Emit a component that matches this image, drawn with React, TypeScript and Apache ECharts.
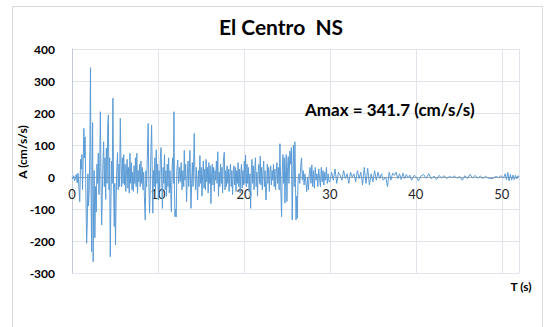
import React, { useEffect, useRef } from "react";
import * as echarts from "echarts";

// Ground acceleration record, El Centro NS: [time (s), acceleration (cm/s/s)]
const strongPhase: [number, number][] = [
  [0, 0], [0.1, -6], [0.2, 4], [0.3, -12], [0.4, -4], [0.5, 8], [0.6, -18], [0.7, 12], [0.8, -30], [0.9, -77],
  [1.0, 55], [1.08, 25], [1.15, 70], [1.22, -40], [1.3, 45], [1.38, 152], [1.45, 60], [1.52, 125], [1.6, -20],
  [1.7, -207], [1.78, -140], [1.85, 10], [1.92, -90], [2.0, -40], [2.08, 80], [2.15, 341.7], [2.22, -60],
  [2.28, -233], [2.34, 30], [2.4, 170], [2.46, -265], [2.52, -80], [2.58, 20], [2.66, -190], [2.74, -30],
  [2.82, -110], [2.9, 40], [2.98, -20], [3.06, 75], [3.14, -55], [3.22, 30], [3.3, 204], [3.38, -20],
  [3.45, -150], [3.52, -60], [3.6, 40], [3.68, 110], [3.76, -30], [3.84, 60], [3.92, -70], [4.0, 90],
  [4.08, -20], [4.16, 160], [4.23, 194], [4.3, -40], [4.38, 60], [4.45, -249], [4.52, -90], [4.6, 50],
  [4.68, -20], [4.76, 246], [4.84, -40], [4.92, -155], [4.98, -20], [5.06, -212], [5.14, -60], [5.22, 30],
  [5.3, 76], [5.38, -40], [5.46, 40], [5.54, -30], [5.62, 183], [5.7, 40], [5.78, -30], [5.86, 60], [5.94, -20],
  [6.02, 70], [6.1, -25], [6.18, 40], [6.26, -45], [6.34, 20], [6.42, 55], [6.5, -35], [6.58, 30], [6.66, -50],
  [6.74, 74], [6.82, -20], [6.9, 45], [6.98, -40], [7.06, 15], [7.14, -45], [7.22, 35], [7.3, -20], [7.38, 60],
  [7.46, -30], [7.54, 74], [7.62, -51], [7.7, 20], [7.78, -15], [7.86, 40], [7.94, -30], [8.02, 50], [8.1, -20],
  [8.18, 30], [8.26, -40], [8.34, 15], [8.42, -60], [8.52, -134], [8.6, 20], [8.68, -30], [8.76, 60],
  [8.86, 167], [8.94, -20], [9.02, -113], [9.1, -40], [9.18, 80], [9.26, 162], [9.34, 10], [9.4, -113],
  [9.48, 20], [9.56, -30], [9.64, 60], [9.72, -40], [9.8, 85], [9.88, -20], [9.96, 40], [10.04, -72],
  [10.12, 20], [10.2, -40], [10.28, 60], [10.36, 92], [10.44, -20], [10.52, -98], [10.6, 30], [10.68, -20],
  [10.76, 70], [10.84, -40], [10.92, 20], [11.0, -60], [11.08, 40], [11.16, -30], [11.24, 60], [11.32, -50],
  [11.4, 20], [11.48, -40], [11.56, -108], [11.64, 30], [11.72, 60], [11.8, -20], [11.86, 204], [11.92, -40],
  [11.98, -124], [12.05, -100], [12.12, -125], [12.2, 20],
];

const middlePhase: [number, number][] = [
  [12.3, 53], [12.4, -20], [12.5, 30], [12.6, -15], [12.7, 45], [12.8, -40], [12.9, 20], [13.0, -30],
  [13.06, 83], [13.14, -10], [13.22, 40], [13.33, -77], [13.42, 10], [13.5, 50], [13.58, -30], [13.66, 30],
  [13.72, 83], [13.84, -98], [13.92, -20], [14.0, 45], [14.08, -30], [14.16, 60], [14.22, 136], [14.3, 10],
  [14.38, -40], [14.46, 30], [14.54, -20], [14.61, -72], [14.7, 20], [14.78, -30], [14.88, 67], [14.96, -20],
  [15.04, 30], [15.12, -60], [15.2, 10], [15.28, 50], [15.36, -35], [15.44, 25], [15.52, -40], [15.6, 55],
  [15.68, -15], [15.76, 30], [15.84, -50], [15.92, 45], [16.0, -20], [16.08, 35], [16.16, -83], [16.24, 10],
  [16.32, 40], [16.4, -25], [16.48, 30], [16.56, -45], [16.64, 20], [16.72, -10], [16.8, 50], [16.88, -20],
  [16.96, 79], [17.04, -60], [17.12, 15], [17.2, -30], [17.28, 40], [17.36, -20], [17.44, 30], [17.52, -50],
  [17.6, 45], [17.71, 77], [17.8, -40], [17.88, 20], [17.96, -30], [18.04, 35], [18.12, -20], [18.2, 25],
  [18.28, -45], [18.36, 15], [18.44, 40], [18.52, -30], [18.6, 20], [18.68, -55], [18.76, 10], [18.84, 35],
  [18.92, -25], [19.0, 30], [19.08, -45], [19.16, 20], [19.24, -20], [19.32, 45], [19.4, -30], [19.48, 25],
  [19.56, -50], [19.64, 15], [19.72, 40], [19.8, -35], [19.88, 20], [19.96, -25], [20.05, 50], [20.12, -20],
  [20.19, 69], [20.28, -30], [20.36, 40], [20.44, -20], [20.52, 30], [20.6, -45], [20.7, 10], [20.78, -98],
  [20.86, 20], [20.94, 55], [21.02, -20], [21.1, 35], [21.18, -40], [21.26, 20], [21.34, 60], [21.42, -30],
  [21.5, 15], [21.58, -60], [21.66, 20], [21.74, 40], [21.82, -20], [21.9, 65], [21.98, -25], [22.06, 30],
  [22.14, -40], [22.22, 15], [22.3, 50], [22.38, -30], [22.46, 20], [22.56, -72], [22.64, -30], [22.72, 40],
  [22.8, -20], [22.88, 30], [22.96, -45], [23.04, 15], [23.12, 35], [23.2, -25], [23.28, 20], [23.36, -10],
  [23.44, 40], [23.52, -30], [23.6, 25], [23.68, -40], [23.76, 10], [23.84, 45], [23.92, -20], [24.0, 30],
  [24.1, -40], [24.19, 104], [24.28, -30], [24.38, -124], [24.46, 20], [24.54, 70], [24.62, -20], [24.7, 60],
  [24.77, -82], [24.85, 20], [24.92, 70], [25.0, -77], [25.08, 30], [25.16, 64], [25.24, -20], [25.35, 81],
  [25.43, 40], [25.52, 92], [25.62, -134], [25.7, 20], [25.76, 100], [25.85, -30], [25.93, 110], [26.0, -20],
  [26.06, -134], [26.14, -60], [26.2, -129], [26.3, -10], [26.4, 10], [26.5, -20], [26.6, 30], [26.7, 60],
  [26.8, -10], [26.9, 20], [27.0, -25], [27.1, 10], [27.2, -15], [27.3, -46], [27.4, 0], [27.5, -40],
  [27.6, 10], [27.7, 30], [27.8, -20], [27.9, 38], [28.0, -30], [28.1, 20], [28.2, -35], [28.3, 30],
  [28.4, -10], [28.5, 10], [28.6, -30], [28.7, 25], [28.8, -5], [28.9, -30], [29.0, 30], [29.1, -15],
  [29.2, 20], [29.3, -25], [29.4, 15], [29.5, -10], [29.6, 30], [29.7, -20], [29.8, 10], [29.9, -15],
];

const coda: [number, number][] = [
  [30.0, -15], [30.2, 15], [30.4, -10], [30.6, 25], [30.8, -20], [31.0, 15], [31.2, 5], [31.4, -10],
  [31.6, 20], [31.8, -5], [32.0, 10], [32.2, -20], [32.4, 15], [32.6, 0], [32.8, 10], [33.0, -15],
  [33.2, 20], [33.4, -5], [33.6, 15], [33.8, -25], [34.0, 30], [34.2, -20], [34.4, 27], [34.6, -25],
  [34.8, 10], [35.0, -15], [35.2, 20], [35.4, -10], [35.6, 15], [35.8, -5], [36.0, 10], [36.2, -10],
  [36.5, 0], [36.7, -30], [36.9, 15], [37.1, -10], [37.3, 12], [37.5, 5], [37.7, 15], [37.9, -5],
  [38.1, 10], [38.3, -8], [38.5, 12], [38.7, -5], [38.9, 8], [39.1, -3], [39.3, 6], [39.5, -10],
  [39.8, 5], [40.0, 2], [40.3, -12], [40.6, 3], [40.9, 8], [41.2, -4], [41.5, 10], [41.8, -6],
  [42.1, 3], [42.4, -8], [42.7, 5], [43.0, -3], [43.3, 4], [43.6, -5], [43.9, 2], [44.2, -2],
  [44.5, 3], [44.8, -4], [45.1, 2], [45.4, -10], [45.7, 4], [46.0, -5], [46.3, 8], [46.6, -3],
  [46.9, 5], [47.2, -4], [47.5, 3], [47.8, -5], [48.1, 2], [48.4, -3], [48.7, -5], [49.0, -4],
  [49.3, 2], [49.6, -2], [49.9, 4], [50.2, -3], [50.4, 10], [50.55, -8], [50.7, 14], [50.85, -12],
  [51.0, 8], [51.15, -10], [51.3, 6], [51.45, -8], [51.6, 5], [51.75, -6], [51.9, 4], [52.0, 0],
];

const xTicks = [0, 10, 20, 30, 40, 50];
const yTicks = [-300, -200, -100, 0, 100, 200, 300, 400];
const titleText = "El Centro  NS";
const amaxText = "Amax = 341.7 (cm/s/s)";
const yAxisTitle = "A (cm/s/s)";
const xAxisTitle = "T (s)";

const FONT = "Lato, 'Open Sans', sans-serif";

export default function App() {
  const ref = useRef<HTMLDivElement>(null);

  useEffect(() => {
    document.body.style.margin = "0";
    if (!ref.current) return;
    const chart = echarts.init(ref.current, undefined, { renderer: "svg" });
    const record = [...strongPhase, ...middlePhase, ...coda];
    chart.setOption({
      animation: false,
      backgroundColor: "#ffffff",
      textStyle: { fontFamily: FONT },
      grid: { left: 72, right: 33, top: 49, bottom: 54, containLabel: false },
      xAxis: {
        type: "value",
        position: "bottom",
        min: 0,
        max: 52,
        interval: 10,
        axisLine: { onZero: false, lineStyle: { color: "#e1e4ea", width: 1 } },
        axisTick: { show: false },
        axisLabel: {
          color: "#262626",
          fontSize: 13,
          fontFamily: FONT,
          margin: -86,
          formatter: (v: number) => (xTicks.includes(v) ? String(v) : ""),
        },
        splitLine: { show: true, lineStyle: { color: "#e1e4ea", width: 1 } },
      },
      yAxis: {
        type: "value",
        min: -300,
        max: 400,
        interval: 100,
        axisLine: { show: true, onZero: false, lineStyle: { color: "#c3cad6", width: 1 } },
        axisTick: { show: false },
        axisLabel: {
          color: "#000000",
          fontSize: 12,
          fontWeight: "bold",
          fontFamily: FONT,
          margin: 17,
          formatter: (v: number) => (yTicks.includes(v) ? String(v) : ""),
        },
        splitLine: { show: true, lineStyle: { color: "#e1e4ea", width: 1 } },
      },
      series: [
        {
          type: "line",
          data: record,
          showSymbol: false,
          symbol: "none",
          lineStyle: { color: "#5b9bd5", width: 1 },
          itemStyle: { color: "#5b9bd5" },
          markLine: {
            silent: true,
            symbol: "none",
            label: { show: false },
            lineStyle: { color: "#a6a6a6", type: "solid", width: 1 },
            data: [{ yAxis: 0 }],
            z: 1,
          },
        },
      ],
      graphic: [
        {
          type: "rect",
          shape: { x: 12.5, y: 6.5, width: 530, height: 330 },
          style: { fill: "none", stroke: "#d9d9d9", lineWidth: 1 },
          silent: true,
          z: -1,
        },
        {
          type: "text",
          x: 281,
          y: 26,
          style: {
            text: titleText,
            fontSize: 21,
            fontWeight: "bold",
            fontFamily: FONT,
            fill: "#000000",
            align: "center",
            verticalAlign: "middle",
          },
        },
        {
          type: "text",
          x: 305,
          y: 109,
          z: 10,
          style: {
            text: amaxText,
            fontSize: 17,
            fontWeight: "bold",
            fontFamily: FONT,
            fill: "#000000",
            align: "left",
            verticalAlign: "middle",
          },
        },
        {
          type: "text",
          x: 22,
          y: 152,
          rotation: Math.PI / 2,
          style: {
            text: yAxisTitle,
            fontSize: 12,
            fontWeight: "bold",
            fontFamily: FONT,
            fill: "#000000",
            align: "center",
            verticalAlign: "middle",
          },
        },
        {
          type: "text",
          x: 521,
          y: 286,
          style: {
            text: xAxisTitle,
            fontSize: 12,
            fontWeight: "bold",
            fontFamily: FONT,
            fill: "#000000",
            align: "center",
            verticalAlign: "middle",
          },
        },
      ],
    });
    return () => chart.dispose();
  }, []);

  return (
    <div
      ref={ref}
      style={{ position: "absolute", left: 0, top: 0, width: 552, height: 327, background: "#fff" }}
    />
  );
}
